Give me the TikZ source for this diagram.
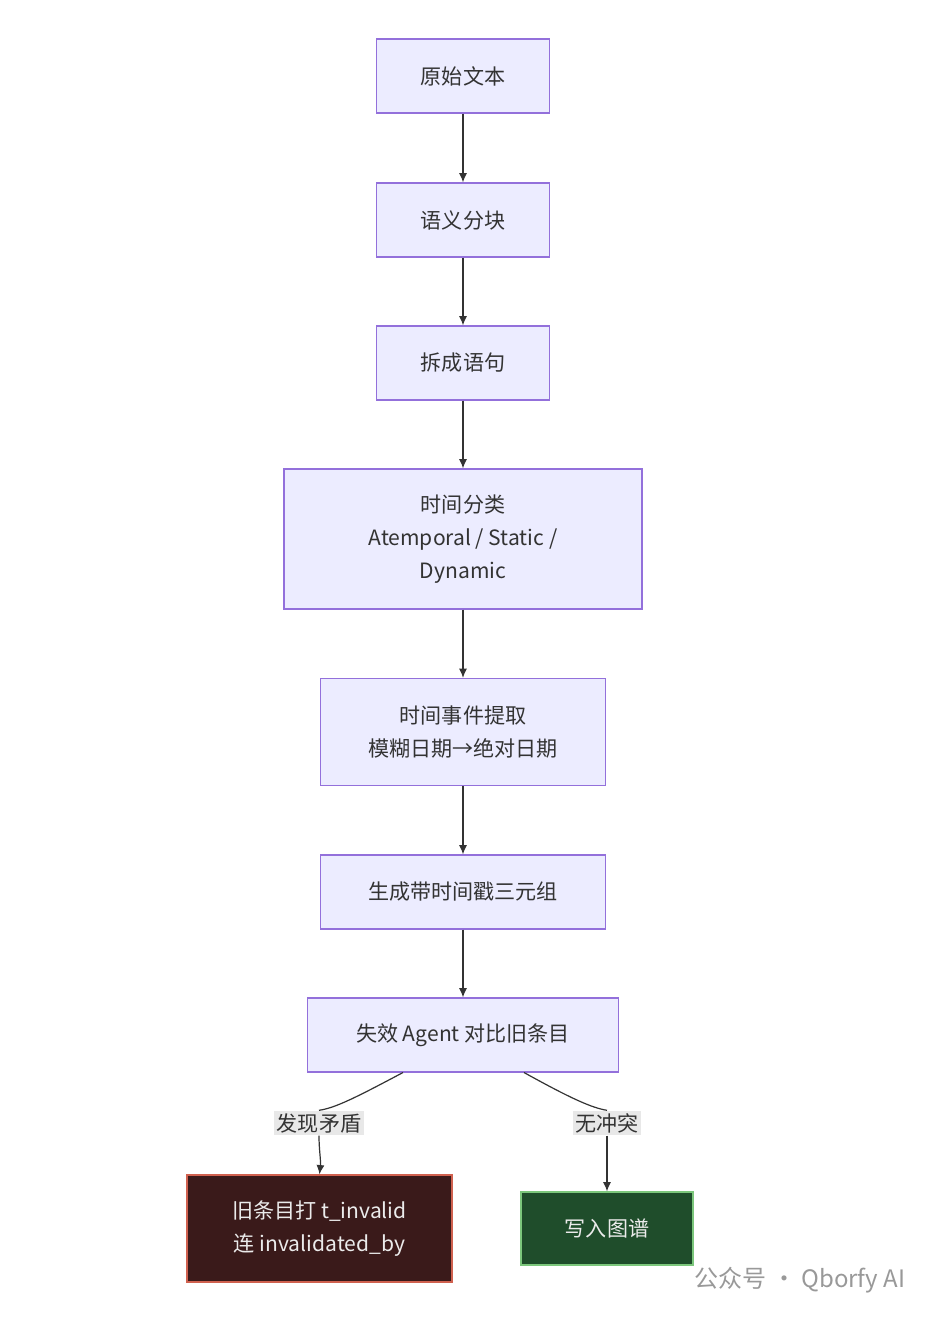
\documentclass[tikz,border=0pt]{standalone}
\usepackage{fontspec}
\setmainfont{Noto Sans CJK SC}
\usetikzlibrary{arrows.meta}
\definecolor{bfill}{HTML}{ECECFF}
\definecolor{bdraw}{HTML}{9370DB}
\definecolor{rfill}{HTML}{3A1A1A}
\definecolor{rdraw}{HTML}{D0614F}
\definecolor{gfill}{HTML}{1F4D2B}
\definecolor{gdraw}{HTML}{7CC77C}
\definecolor{ln}{HTML}{333333}
\tikzset{
  box/.style={draw=bdraw, fill=bfill, line width=0.9pt, inner sep=0pt, align=center,
    font=\fontsize{15.8}{25}\selectfont, text=ln},
  lab/.style={fill=black!9, inner sep=2pt, font=\fontsize{15.8}{18}\selectfont, text=ln},
  arr/.style={draw=ln, line width=0.9pt, -{Latex[length=7pt,width=6pt]}},
}
\begin{document}
\begin{tikzpicture}[x=0.75pt,y=-0.75pt]
\useasboundingbox (0,0) rectangle (948,1318);
\fill[white] (0,0) rectangle (948,1318);
\node[box, minimum width=129.75pt, minimum height=55.5pt] (a) at (463,76) {原始文本};
\node[box, minimum width=129.75pt, minimum height=55.5pt] (b) at (463,220) {语义分块};
\node[box, minimum width=129.75pt, minimum height=55.5pt] (c) at (463,363) {拆成语句};
\node[box, minimum width=268.5pt, minimum height=105pt] (d) at (463,539) {时间分类\\Atemporal / Static /\\Dynamic};
\node[box, minimum width=213.75pt, minimum height=80.25pt] (e) at (463,732) {时间事件提取\\模糊日期→绝对日期};
\node[box, minimum width=213.75pt, minimum height=55.5pt] (f) at (463,892) {生成带时间戳三元组};
\node[box, minimum width=233.25pt, minimum height=55.5pt] (g) at (463,1035) {失效 Agent 对比旧条目};
\node[box, draw=rdraw, fill=rfill, text=white!92!black, minimum width=198.75pt, minimum height=80.25pt] (h) at (319.5,1228.5) {旧条目打 t\_invalid\\连 invalidated\_by};
\node[box, draw=gdraw, fill=gfill, text=white!92!black, minimum width=129pt, minimum height=54.75pt] (i) at (607,1228.5) {写入图谱};
\draw[arr] (a) -- (b);
\draw[arr] (b) -- (c);
\draw[arr] (c) -- (d);
\draw[arr] (d) -- (e);
\draw[arr] (e) -- (f);
\draw[arr] (f) -- (g);
\coordinate (g1) at (403,1072.5);
\coordinate (g2) at (524,1072.5);
\node[lab] (l1) at (319,1123) {发现矛盾};
\node[lab] (l2) at (607,1123) {无冲突};
\draw[ln, line width=0.9pt] (g1) .. controls (355,1098) and (335,1108) .. (l1.north);
\draw[arr] (l1.south) .. controls (319,1150) and (321,1160) .. (h.north);
\draw[ln, line width=0.9pt] (g2) .. controls (570,1098) and (592,1108) .. (l2.north);
\draw[arr] (l2.south) .. controls (607,1160) and (607,1175) .. (i.north);
\node[text=black!40, font=\fontsize{18}{20}\selectfont, anchor=west] (w) at (690,1280) {公众号 · Qborfy AI};
\end{tikzpicture}
\end{document}
